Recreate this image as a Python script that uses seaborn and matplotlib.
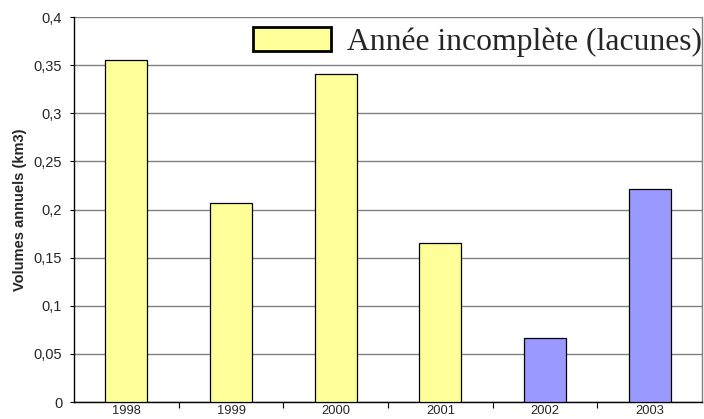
import matplotlib
matplotlib.use("Agg")
import matplotlib.pyplot as plt
from matplotlib.patches import Patch
import seaborn as sns
import pandas as pd

years = ["1998", "1999", "2000", "2001", "2002", "2003"]
volumes = [0.355, 0.207, 0.341, 0.165, 0.066, 0.221]
incomplete = [True, True, True, True, False, False]
y_ticks = [0, 0.05, 0.1, 0.15, 0.2, 0.25, 0.3, 0.35, 0.4]
y_tick_labels = ["0", "0,05", "0,1", "0,15", "0,2", "0,25", "0,3", "0,35", "0,4"]
legend_label = "Année incomplète (lacunes)"

yellow = "#FFFF99"
blue = "#9999FF"

df = pd.DataFrame({"annee": years, "volume": volumes})
colors = [yellow if flag else blue for flag in incomplete]

sns.set_style("white")
plt.rcParams["font.family"] = ["Liberation Sans", "DejaVu Sans"]

fig = plt.figure(figsize=(7.04, 4.19), dpi=100)
ax = fig.add_axes([74 / 704, 17 / 419, (702 - 74) / 704, (402 - 17) / 419])

sns.barplot(data=df, x="annee", y="volume", hue="annee", palette=colors,
            saturation=1, width=0.4, edgecolor="black", linewidth=0.9,
            legend=False, ax=ax, zorder=3)

ax.set_xlim(-0.5, len(years) - 0.5)
ax.set_ylim(0, 0.4)
ax.set_yticks(y_ticks)
ax.set_yticklabels(y_tick_labels, fontsize=10.5)
ax.yaxis.grid(True, color="#808080", linewidth=1.0, zorder=0)
ax.xaxis.grid(False)

# category labels centred, tick marks between categories
ax.tick_params(axis="x", which="major", length=0, labelsize=9.3, pad=2.5)
ax.set_xticks([i + 0.5 for i in range(len(years) - 1)], minor=True)
ax.tick_params(axis="x", which="minor", length=4, width=0.8, color="black",
               direction="out", bottom=True)
ax.tick_params(axis="y", length=3, width=0.8, color="black", direction="out",
               left=True, pad=5.5)

ax.set_xlabel("")
ax.set_ylabel("Volumes annuels (km3)", fontsize=10.5, fontweight="bold",
              labelpad=5)

for side in ["left", "bottom"]:
    ax.spines[side].set_color("black")
    ax.spines[side].set_linewidth(1.0)
ax.spines["right"].set_color("#808080")
ax.spines["right"].set_linewidth(1.0)
ax.spines["top"].set_visible(False)

handle = Patch(facecolor=yellow, edgecolor="black", linewidth=2.0)
leg = ax.legend([handle], [legend_label], loc="center left",
                bbox_to_anchor=(253 / 704, 1 - 42 / 419),
                bbox_transform=fig.transFigure,
                frameon=False, handlelength=2.45, handleheight=0.82,
                handletextpad=0.53, borderaxespad=0.0, borderpad=0.0,
                prop={"family": "Liberation Serif", "size": 22.8})

fig.savefig("out.png", dpi=100)
